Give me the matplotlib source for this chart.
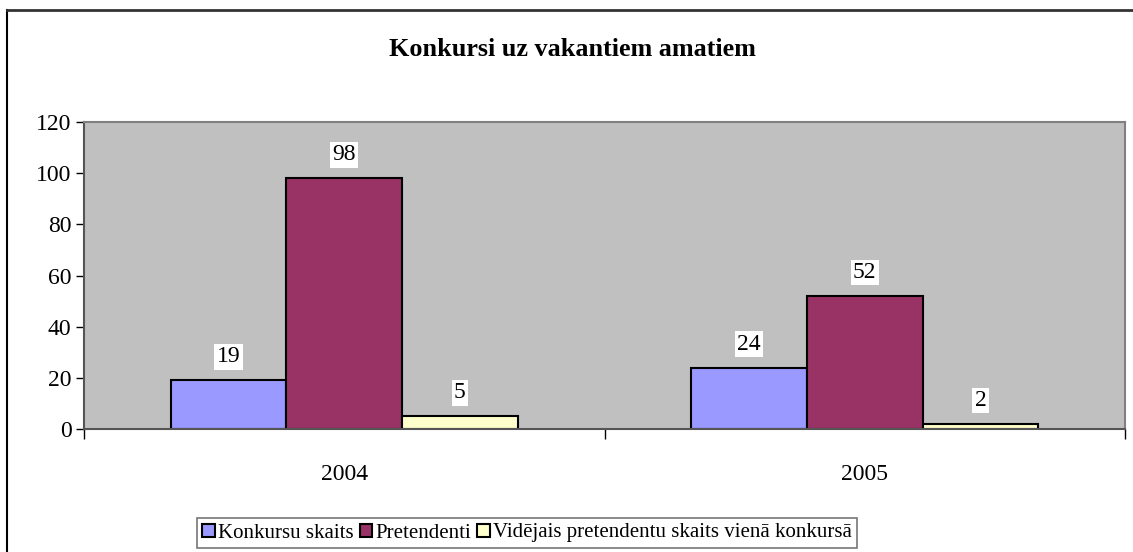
import matplotlib

matplotlib.use("Agg")

import matplotlib.pyplot as plt
import numpy as np
from matplotlib.lines import Line2D
from matplotlib.patches import Patch

years = ["2004", "2005"]
series_names = [
    "Konkursu skaits",
    "Pretendenti",
    "Vidējais pretendentu skaits vienā konkursā",
]
konkursu_skaits = [19, 24]
pretendenti = [98, 52]
videjais = [5, 2]
y_ticks = [0, 20, 40, 60, 80, 100, 120]

colours = ["#9999FF", "#993366", "#FFFFCC"]

W, H = 1133, 552
plt.rcParams["font.family"] = ["Liberation Serif", "DejaVu Serif"]

fig = plt.figure(figsize=(W / 100, H / 100), dpi=100)

# outer chart border (top and left only visible)
fig.add_artist(Line2D([7 / W, 7 / W], [0, 1 - 10 / H], color="black", lw=1.5, transform=fig.transFigure))
fig.add_artist(Line2D([7 / W, 1], [1 - 10 / H, 1 - 10 / H], color="#333333", lw=2.0, transform=fig.transFigure))

left, right, top, bottom = 84, 1125, 122, 429
ax = fig.add_axes([left / W, 1 - bottom / H, (right - left) / W, (bottom - top) / H])
ax.set_facecolor("#C0C0C0")

x = np.arange(len(years))
bar_w = 1 / 4.5
values = [konkursu_skaits, pretendenti, videjais]
for i, (vals, col) in enumerate(zip(values, colours)):
    pos = x + (i - 1) * bar_w
    ax.bar(pos, vals, width=bar_w, color=col, edgecolor="black", linewidth=1.5, zorder=2)
    for p, v in zip(pos, vals):
        ax.annotate(
            str(v),
            (p, v),
            xytext=(0, 13),
            textcoords="offset pixels",
            ha="center",
            va="bottom",
            fontsize=17,
            bbox=dict(boxstyle="square,pad=0.1", facecolor="white", edgecolor="none"),
            zorder=3,
        )

ax.set_xlim(-0.5, 1.5)
ax.set_ylim(0, 120)
ax.set_yticks(y_ticks)
ax.tick_params(axis="y", labelsize=17, length=6, width=1, direction="out", color="black", pad=3)

ax.set_xticks([-0.5, 0.5, 1.5])
ax.set_xticklabels([])
ax.set_xticks(x, minor=True)
ax.set_xticklabels(years, minor=True)
ax.tick_params(axis="x", which="major", length=7, width=1, direction="out", color="black")
ax.tick_params(axis="x", which="minor", length=0, labelsize=17, pad=25)

for name in ["top", "right"]:
    ax.spines[name].set_color("#808080")
    ax.spines[name].set_linewidth(1.5)
ax.spines["left"].set_color("#555555")
ax.spines["bottom"].set_color("#555555")
ax.spines["left"].set_linewidth(1.5)
ax.spines["bottom"].set_linewidth(1.5)

fig.text(572 / W, 1 - 50 / H, "Konkursi uz vakantiem amatiem", ha="center", va="center",
         fontsize=18.8, fontweight="bold")

handles = [Patch(facecolor=c, edgecolor="black", linewidth=1.5) for c in colours]
leg = fig.legend(
    handles,
    series_names,
    loc="center",
    bbox_to_anchor=(527 / W, 1 - 533 / H),
    ncol=3,
    fontsize=15,
    frameon=True,
    fancybox=False,
    handlelength=0.6,
    handleheight=0.6,
    handletextpad=0.15,
    columnspacing=0.3,
    borderpad=0.25,
    borderaxespad=0,
)
leg.get_frame().set_edgecolor("#555555")
leg.get_frame().set_linewidth(1.2)

fig.savefig("out.png", dpi=100, facecolor="white")
